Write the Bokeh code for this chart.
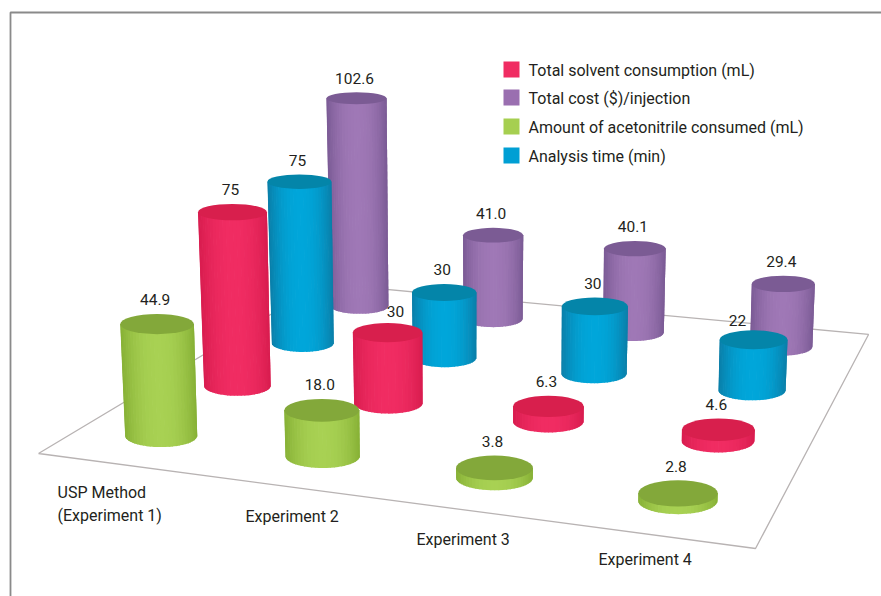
from math import cos, pi, sqrt
from bokeh.plotting import figure
from bokeh.core.properties import value
from bokeh.embed import file_html
from bokeh.resources import INLINE

# ---- data ----
experiments = ["USP Method", "Experiment 2", "Experiment 3", "Experiment 4"]
solvent = [75, 30, 6.3, 4.6]
cost = [102.6, 41.0, 40.1, 29.4]
acetonitrile = [44.9, 18.0, 3.8, 2.8]
analysis_time = [75, 30, 30, 22]
solvent_labels = ["75", "30", "6.3", "4.6"]
cost_labels = ["102.6", "41.0", "40.1", "29.4"]
acetonitrile_labels = ["44.9", "18.0", "3.8", "2.8"]
time_labels = ["75", "30", "30", "22"]
legend_names = ["Total solvent consumption (mL)", "Total cost ($)/injection",
                "Amount of acetonitrile consumed (mL)", "Analysis time (min)"]

# ---- style: (edge, centre, top) ----
RED = ("#d81c4e", "#f02c62", "#d81f4d")
PURPLE = ("#7a5a94", "#9f78b6", "#7b5b94")
GREEN = ("#86b035", "#a8d153", "#83a83a")
BLUE = ("#0a7ea8", "#00a6da", "#0485a9")
FONT = value("Roboto")
FONT_SIZE = "16px"
VALUE_SIZE = "15.5px"
TXT = "#231f20"

# ---- perspective floor: homography of the unit square ----
G, H = -0.1248, 0.339
A, B, C = 622.8, 393.2, 38.0
D, E, F = 26.6, -74.1, 453.0
HEIGHT_K = 2.53
HEIGHT_GROW = 0.00025
RADIUS_K = 37.0


def floor(u, v):
    w = G * u + H * v + 1
    return (A * u + B * v + C) / w, (D * u + E * v + F) / w, w


def flat(y):
    return 0.2 + (y - 98) * 0.00033


def lean(x):
    return 0.000113 * (x - 487)


def mix(c1, c2, t):
    a = [int(c1[i:i + 2], 16) for i in (1, 3, 5)]
    b = [int(c2[i:i + 2], 16) for i in (1, 3, 5)]
    return "#%02x%02x%02x" % tuple(round(p + (q - p) * t) for p, q in zip(a, b))


p = figure(width=881, height=596, x_range=(0, 881), y_range=(596, 0),
           toolbar_location=None, output_backend="svg", min_border=0,
           x_axis_location=None, y_axis_location=None, outline_line_color=None,
           background_fill_color="white", border_fill_color="white")
p.grid.visible = False

# frame
p.line([10, 10, 881], [596, 12, 12], line_color="#8a8a8a", line_width=1.8)

# floor outline
corners = [(0, 0), (1, 0), (1, 1), (0, 1), (0, 0)]
pts = [floor(u, v) for u, v in corners]
p.line([q[0] for q in pts], [q[1] for q in pts], line_color="#b8b3b3", line_width=1.3)


def cylinder(u, v, val, colors, label, nudge=(0, 0)):
    bx, by, w = floor(u, v)
    a0 = RADIUS_K / w
    h = HEIGHT_K * val / w * (1 + HEIGHT_GROW * val)
    ty = by - h
    tx = bx + lean(bx) * h
    a1 = a0 * (1 + 0.0002 * h)
    b0 = a0 * flat(by)
    b1 = a1 * flat(ty)
    n = 30
    xs, ys, fills = [], [], []
    for k in range(n):
        t0 = -cos(pi * k / n)
        t1 = -cos(pi * (k + 1) / n)
        tm = (t0 + t1) / 2
        extra = 0.7 / a0 if k < n - 1 else 0
        t1e = min(1.0, t1 + extra)
        s0 = sqrt(max(0, 1 - t0 * t0))
        s1 = sqrt(max(0, 1 - t1e * t1e))
        xs.append([tx + a1 * t0, tx + a1 * t1e, bx + a0 * t1e, bx + a0 * t0])
        ys.append([ty, ty, by + b0 * s1, by + b0 * s0])
        fills.append(mix(colors[0], colors[1], 1 - abs(tm) ** 2.2))
    p.patches(xs, ys, fill_color=fills, line_color=None)
    p.ellipse([tx], [ty], width=2 * a1, height=2 * b1, fill_color=colors[2], line_color=None)
    p.text([tx - 2 + nudge[0]], [ty - b1 - 14 + nudge[1]], text=[label], text_font=FONT,
           text_font_size=VALUE_SIZE, text_color=TXT, text_align="center",
           text_baseline="middle")


grid = [0.125, 0.375, 0.625, 0.875]
rows = [
    (grid[3], cost, PURPLE, cost_labels, {}),
    (grid[2], analysis_time, BLUE, time_labels, {3: (-14, 4)}),
    (grid[1], solvent, RED, solvent_labels, {1: (10, 3)}),
    (grid[0], acetonitrile, GREEN, acetonitrile_labels, {}),
]
for v, vals, colors, labels, nudges in rows:
    for i, val in enumerate(vals):
        cylinder(grid[i], v, val, colors, labels[i], nudges.get(i, (0, 0)))

# category labels
p.text([57, 57, 245, 416, 598], [492, 515, 516, 539, 559],
       text=[experiments[0], "(Experiment 1)", experiments[1], experiments[2], experiments[3]],
       text_font=FONT, text_font_size=FONT_SIZE, text_color=TXT,
       text_align="left", text_baseline="middle")

# legend
lx0, lx1, ly = 503, 519, [61, 89, 118, 147]
p.quad(left=[lx0] * 4, right=[lx1] * 4, top=ly, bottom=[y + 16 for y in ly],
       fill_color=[RED[1], "#9a6fb0", "#a6cf50", "#009fd4"], line_color=None)
p.text([528] * 4, [y + 9 for y in ly], text=legend_names, text_font=FONT,
       text_font_size=FONT_SIZE, text_color=TXT, text_align="left", text_baseline="middle")

open("out.html", "w").write(file_html(p, INLINE))
